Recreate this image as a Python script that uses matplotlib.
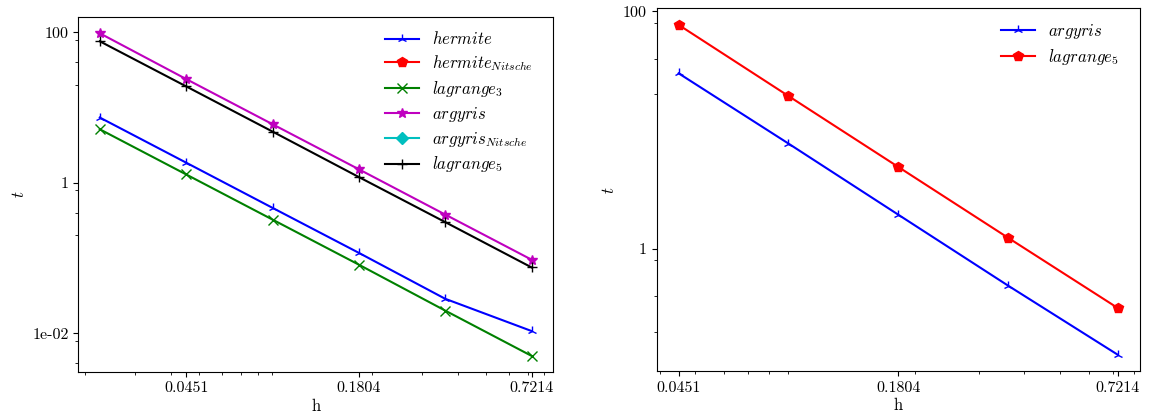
import matplotlib
matplotlib.use("Agg")
import matplotlib.pyplot as plt
from matplotlib.ticker import FixedLocator, NullFormatter

# Computer Modern look like the LaTeX output
plt.rcParams['font.family'] = 'serif'
plt.rcParams['font.serif'] = ['cmr10']
plt.rcParams['mathtext.fontset'] = 'cm'
plt.rcParams['axes.formatter.use_mathtext'] = True
plt.rcParams['lines.markersize'] = 7

# left panel data (time t against mesh size h)
h_left = [0.02255, 0.0451, 0.0902, 0.1804, 0.3607, 0.7214]
hermite = [7.36, 1.85, 0.464, 0.117, 0.0287, 0.0107]
hermite_nitsche = []
lagrange3 = [5.14, 1.29, 0.324, 0.0815, 0.020, 0.0050]
argyris = [97.0, 23.9, 6.0, 1.51, 0.378, 0.095]
argyris_nitsche = []
lagrange5 = [75.9, 19.1, 4.79, 1.19, 0.30, 0.075]

# right panel data
h_right = [0.0451, 0.0902, 0.1804, 0.3607, 0.7214]
argyris_r = [30.1, 7.71, 1.94, 0.49, 0.128]
lagrange5_r = [77.1, 19.4, 4.9, 1.24, 0.317]

h_ticks = [0.0451, 0.1804, 0.7214]
h_ticklabels = ['0.0451', '0.1804', '0.7214']

fig = plt.figure(figsize=(11.5, 4.18), dpi=100)
ax1 = fig.add_axes([0.068, 0.110, 0.413, 0.849])
ax2 = fig.add_axes([0.571, 0.112, 0.420, 0.868])

## left plot
ax1.plot(h_left, hermite, color='b', marker='2', label=r'$hermite$')
ax1.plot(h_left[:len(hermite_nitsche)], hermite_nitsche, color='r', marker='p', label=r'$hermite_{Nitsche}$')
ax1.plot(h_left, lagrange3, color='g', marker='x', label=r'$lagrange_3$')
ax1.plot(h_left, argyris, color='m', marker='*', label=r'$argyris$')
ax1.plot(h_left[:len(argyris_nitsche)], argyris_nitsche, color='c', marker='D', markersize=6, label=r'$argyris_{Nitsche}$')
ax1.plot(h_left, lagrange5, color='k', marker='+', label=r'$lagrange_5$')
ax1.set_xscale('log')
ax1.set_yscale('log')
ax1.set_yticks([0.01, 1, 100])
ax1.set_yticklabels(['1e-02', '1', '100'])
ax1.yaxis.set_minor_locator(FixedLocator([0.004, 0.008, 0.2, 0.4, 0.8, 20, 40, 80]))
ax1.yaxis.set_minor_formatter(NullFormatter())

## right plot
ax2.plot(h_right, argyris_r, color='b', marker='2', label=r'$argyris$')
ax2.plot(h_right, lagrange5_r, color='r', marker='p', label=r'$lagrange_5$')
ax2.set_xscale('log')
ax2.set_yscale('log')
ax2.set_yticks([1, 100])
ax2.set_yticklabels(['1', '100'])
ax2.yaxis.set_minor_locator(FixedLocator([0.2, 0.4, 0.8, 20, 40, 80]))
ax2.yaxis.set_minor_formatter(NullFormatter())

for ax in [ax1, ax2]:
    ax.set_xticks(h_ticks)
    ax.set_xticklabels(h_ticklabels)
    ax.xaxis.set_minor_formatter(NullFormatter())
    ax.tick_params(labelsize=11.5)
    ax.set_xlabel('h', fontsize=12, labelpad=2)
    ax.set_ylabel(r'$t$', fontsize=12)
    ax.legend(loc='upper right', bbox_to_anchor=(0.985, 1.0), frameon=False,
              fontsize=12, labelspacing=0.35, borderaxespad=0.4)

fig.savefig('out.png', dpi=100)
